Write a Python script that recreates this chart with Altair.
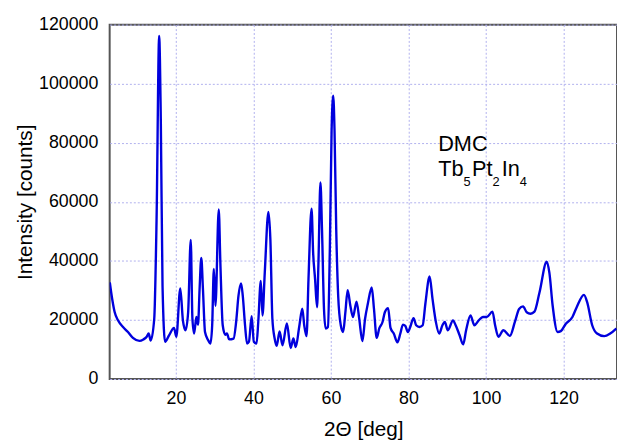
import altair as alt
import pandas as pd

two_theta = [2.94, 3.55, 4.2, 5.08, 6.35, 7.62, 8.9, 10.58, 11.6, 12.46, 12.97, 13.48, 14.4, 15.0,
             15.67, 16.1, 16.54, 17.2, 18.22, 19.5, 20.1, 21.12, 21.8, 22.47, 23.15, 23.82, 24.25,
             24.7, 25.27, 25.7, 26.1, 26.54, 26.97, 27.5, 28.33, 28.9, 29.35, 29.78, 30.19, 31.05,
             31.46, 32.07, 32.73, 33.16, 33.75, 34.87, 35.53, 36.14, 36.81, 37.24, 37.83, 38.34,
             38.84, 39.53, 40.1, 40.8, 41.24, 41.9, 42.33, 42.92, 43.86, 44.37, 44.88, 45.47, 46.0,
             46.74, 47.5, 48.62, 49.6, 50.3, 50.9, 51.8, 52.6, 53.1, 53.7, 54.2, 54.99, 55.4, 55.9,
             56.41, 56.77, 57.28, 57.69, 58.2, 58.63, 59.22, 59.72, 60.16, 60.59, 60.92, 61.36,
             61.86, 62.53, 63.14, 63.72, 64.3, 65.0, 65.68, 66.6, 67.29, 68.1, 68.8, 69.5, 70.52,
             71.1, 71.8, 72.46, 73.3, 73.9, 74.75, 75.36, 76.2, 77.14, 77.9, 78.57, 79.18, 79.84,
             80.45, 81.3, 81.98, 82.82, 83.67, 84.35, 85.45, 86.2, 87.07, 87.92, 88.76, 89.37,
             90.15, 91.48, 92.17, 93.19, 94.1, 94.87, 96.0, 97.0, 98.1, 99.2, 100.2, 101.67,
             102.35, 103.2, 104.47, 106.17, 107.45, 108.54, 109.56, 110.5, 111.5, 112.5, 113.8,
             115.67, 116.35, 117.2, 118.47, 119.3, 120.6, 122.3, 123.4, 125.28, 126.1, 127.4,
             128.65, 130.5, 132.05, 133.6]

intensity = [32700, 27100, 22600, 19800, 17600, 15900, 13900, 12900, 13400, 14300, 15400, 13000,
             20400, 53800, 116200, 87300, 31500, 12600, 14800, 17300, 14300, 30700, 19800, 16500,
             22600, 47100, 20400, 15400, 21000, 18400, 30400, 41000, 30400, 15900, 13100, 12000,
             18200, 37300, 24800, 57400, 39400, 18200, 15000, 15400, 13400, 13700, 19300, 28200,
             32400, 28200, 18200, 12000, 12600, 21300, 12600, 12000, 19300, 33200, 21500, 36000,
             56600, 47100, 20400, 13700, 11200, 16100, 11400, 18800, 10500, 13700, 10800, 17600,
             23800, 18200, 14500, 33800, 57700, 42700, 33800, 24300, 39400, 66600, 50500, 23700,
             17100, 17600, 44900, 83900, 95900, 83900, 50500, 28200, 18200, 15900, 22600, 30100,
             24800, 21000, 26200, 20400, 12800, 20400, 25400, 31000, 23700, 13900, 17100, 19300,
             22600, 24000, 17300, 15400, 12400, 15400, 18400, 18000, 15900, 17600, 20600, 18200,
             17600, 18200, 25400, 34700, 27100, 19300, 15400, 18200, 19300, 16500, 19800, 18200,
             14800, 11700, 16500, 21500, 18200, 19800, 21000, 21000, 22800, 18200, 14300, 16500,
             14600, 19300, 23700, 24600, 22600, 22100, 22800, 29300, 39700, 36000, 24800, 15900,
             16200, 18700, 21000, 24300, 28500, 26000, 18200, 15400, 14500, 15400, 17100]

x_ticks = [20, 40, 60, 80, 100, 120]
y_ticks = [0, 20000, 40000, 60000, 80000, 100000, 120000]

label_main = "DMC"
formula_parts = ["Tb", "5", "Pt", "2", "In", "4"]

FONT = "Liberation Sans"
X_DOMAIN = [2.9, 133.8]
Y_DOMAIN = [0, 120000]
GRID = "#b0b0ee"

df = pd.DataFrame({"tt": two_theta, "I": intensity})

x_enc = alt.X("tt:Q", scale=alt.Scale(domain=X_DOMAIN, nice=False, zero=False),
              axis=alt.Axis(values=x_ticks, title="2\u0398 [deg]", labelFontSize=18,
                            titleFontSize=21, titleFontWeight="normal", ticks=False,
                            labelPadding=11, titlePadding=11, domain=False,
                            labelColor="black", titleColor="black", labelFont=FONT, titleFont=FONT,
                            grid=True, gridColor=GRID, gridDash=[2, 2], gridWidth=1))
y_enc = alt.Y("I:Q", scale=alt.Scale(domain=Y_DOMAIN, nice=False),
              axis=alt.Axis(values=y_ticks, format="d", title="Intensity [counts]",
                            labelFontSize=18, titleFontSize=21, titleFontWeight="normal",
                            ticks=False, labelPadding=12, titlePadding=3, domain=False,
                            labelColor="black", titleColor="black", labelFont=FONT, titleFont=FONT,
                            grid=True, gridColor=GRID, gridDash=[2, 2], gridWidth=1))

line = alt.Chart(df).mark_line(color="#0000dd", strokeWidth=2.4, interpolate="monotone", clip=True).encode(
    x=x_enc, y=y_enc)

ann_x = 87.66
main_df = pd.DataFrame({"tt": [ann_x], "I": [77200], "t": [label_main]})
main_txt = alt.Chart(main_df).mark_text(align="left", baseline="alphabetic", fontSize=22,
                                        font=FONT, color="black").encode(
    x="tt:Q", y="I:Q", text="t:N")

layers = [line, main_txt]
offsets = [0, 25.7, 34.3, 55.1, 64.3, 82.6]
for part, dx in zip(formula_parts, offsets):
    is_sub = part.isdigit()
    pdf = pd.DataFrame({"tt": [ann_x], "I": [65300 if is_sub else 68900], "t": [part]})
    layers.append(alt.Chart(pdf).mark_text(align="left", baseline="alphabetic",
                                           fontSize=13 if is_sub else 22, dx=dx,
                                           font=FONT, color="black").encode(
        x="tt:Q", y="I:Q", text="t:N"))

chart = alt.layer(*layers).properties(
    width=514, height=359,
    autosize=alt.AutoSizeParams(type="none"),
    padding={"left": 103, "top": 14, "right": 0, "bottom": 62},
    background="white",
).configure_view(stroke="#555555", strokeWidth=2)

chart.save("out.html", embed_options={"renderer": "svg", "actions": False})
